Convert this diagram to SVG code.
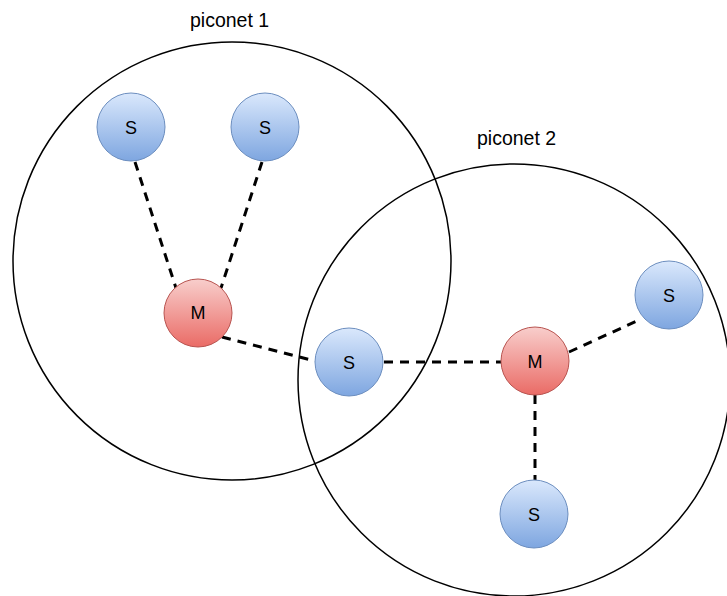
<svg xmlns="http://www.w3.org/2000/svg" width="727" height="596" viewBox="0 0 727 596">
  <style>
    .area { fill: none; stroke: #000; stroke-width: 1.5; }
    .caption { font-family: "Liberation Sans", Arial, sans-serif; font-size: 19.5px; fill: #000; }
    .link { stroke: #000; stroke-width: 3; stroke-dasharray: 9 7; fill: none; }
    .slave { fill: url(#blueFill); stroke: #6c8ebf; stroke-width: 1; }
    .master { fill: url(#redFill); stroke: #b85450; stroke-width: 1; }
    .label { font-family: "Liberation Sans", Arial, sans-serif; font-size: 18px; fill: #000; text-anchor: middle; dominant-baseline: central; }
  </style>
  <defs>
    <linearGradient id="blueFill" x1="0" y1="0" x2="0" y2="1">
      <stop offset="0" stop-color="#dae8fc"/>
      <stop offset="1" stop-color="#7ea6e0"/>
    </linearGradient>
    <linearGradient id="redFill" x1="0" y1="0" x2="0" y2="1">
      <stop offset="0" stop-color="#f8cecc"/>
      <stop offset="1" stop-color="#ea6b66"/>
    </linearGradient>
  </defs>
  <rect width="727" height="596" fill="#fff"/>

  <!-- piconet boundaries -->
  <g id="piconet1">
    <circle class="area" cx="232" cy="261" r="219"/>
    <text class="caption" x="190" y="27">piconet 1</text>
  </g>
  <g id="piconet2">
    <circle class="area" cx="514" cy="380" r="216"/>
    <text class="caption" x="477" y="145">piconet 2</text>
  </g>

  <!-- links -->
  <g id="links">
    <line class="link" x1="135" y1="162" x2="176" y2="288"/>
    <line class="link" x1="262" y1="162" x2="221" y2="288"/>
    <line class="link" x1="222" y1="337" x2="315" y2="361"/>
    <line class="link" x1="384" y1="362" x2="501" y2="362"/>
    <line class="link" x1="569" y1="352" x2="639" y2="320"/>
    <line class="link" x1="535" y1="395" x2="535" y2="480"/>
  </g>

  <!-- devices -->
  <g id="s1"><circle class="slave" cx="131" cy="127" r="34"/><text class="label" x="131" y="128">S</text></g>
  <g id="s2"><circle class="slave" cx="265" cy="127" r="34"/><text class="label" x="265" y="128">S</text></g>
  <g id="m1"><circle class="master" cx="198" cy="313" r="34"/><text class="label" x="198" y="313">M</text></g>
  <g id="bridge"><circle class="slave" cx="349" cy="362" r="34"/><text class="label" x="349" y="363">S</text></g>
  <g id="m2"><circle class="master" cx="535" cy="361" r="34"/><text class="label" x="535" y="362">M</text></g>
  <g id="s3"><circle class="slave" cx="669" cy="295" r="34"/><text class="label" x="669" y="296">S</text></g>
  <g id="s4"><circle class="slave" cx="534" cy="514" r="34"/><text class="label" x="534" y="515">S</text></g>
</svg>
